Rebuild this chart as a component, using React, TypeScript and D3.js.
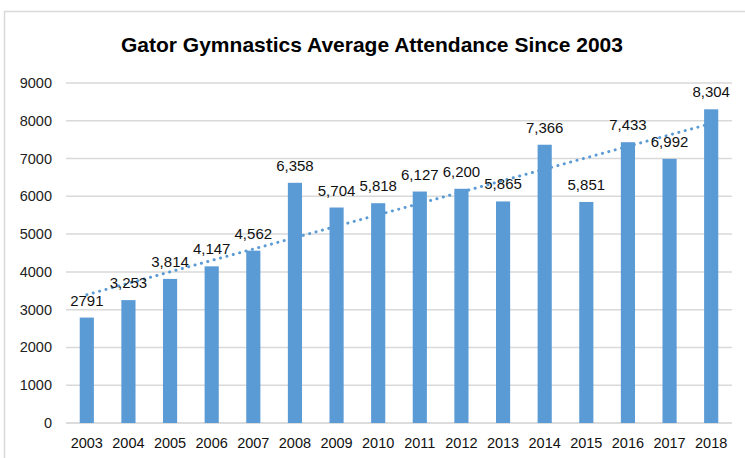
import * as d3 from 'd3';

const years = ['2003', '2004', '2005', '2006', '2007', '2008', '2009', '2010', '2011', '2012', '2013', '2014', '2015', '2016', '2017', '2018'];
const attendance = [2791, 3253, 3814, 4147, 4562, 6358, 5704, 5818, 6127, 6200, 5865, 7366, 5851, 7433, 6992, 8304];
const valueLabels = ['2791', '3,253', '3,814', '4,147', '4,562', '6,358', '5,704', '5,818', '6,127', '6,200', '5,865', '7,366', '5,851', '7,433', '6,992', '8,304'];
const yTicks = [0, 1000, 2000, 3000, 4000, 5000, 6000, 7000, 8000, 9000];

const width = 745;
const height = 458;
const plot = { left: 66, right: 732, top: 83, bottom: 423 };
const blue = '#5b9bd5';
const font = '"Liberation Sans", Arial, sans-serif';

export default function App() {
    const x = d3.scaleBand<string>().domain(years).range([plot.left, plot.right]).paddingInner(0.66).paddingOuter(0.33);
    const y = d3.scaleLinear().domain([0, 9000]).range([plot.bottom, plot.top]);
    const cx = (yr: string) => (x(yr) ?? 0) + x.bandwidth() / 2;

    // linear trendline, least squares over the year index
    const idx = attendance.map((_, i) => i);
    const mx = d3.mean(idx) ?? 0;
    const my = d3.mean(attendance) ?? 0;
    const slope =
        d3.sum(idx, (i) => (i - mx) * (attendance[i] - my)) / d3.sum(idx, (i) => (i - mx) * (i - mx));
    const intercept = my - slope * mx;
    const trend = d3
        .line<number>()
        .x((i) => cx(years[i]))
        .y((i) => y(intercept + slope * i));

    return (
        <svg
            width={width}
            height={height}
            style={{ position: 'absolute', left: 0, top: 0, background: '#fff' }}
            fontFamily={font}
        >
            <rect x={4.5} y={11.5} width={760} height={470} fill="#fff" stroke="#d9d9d9" strokeWidth={1.5} />
            <text
                x={372}
                y={52}
                textAnchor="middle"
                fontSize={21}
                fontWeight="bold"
                fill="#000"
                textLength={502}
                lengthAdjust="spacingAndGlyphs"
            >
                Gator Gymnastics Average Attendance Since 2003
            </text>
            {yTicks.map((t) => (
                <g key={t}>
                    <line
                        x1={plot.left}
                        x2={plot.right}
                        y1={y(t)}
                        y2={y(t)}
                        stroke={t === 0 ? '#d0d0d0' : '#d9d9d9'}
                        strokeWidth={1.5}
                    />
                    <text x={52} y={y(t) + 5} textAnchor="end" fontSize={14.5} fill="#222">
                        {t}
                    </text>
                </g>
            ))}
            {years.map((yr, i) => (
                <rect
                    key={yr}
                    x={x(yr)}
                    y={y(attendance[i])}
                    width={x.bandwidth()}
                    height={plot.bottom - y(attendance[i])}
                    fill={blue}
                />
            ))}
            <path
                d={trend(idx) ?? ''}
                fill="none"
                stroke={blue}
                strokeWidth={3}
                strokeLinecap="round"
                strokeDasharray="0.1 6.5"
            />
            {years.map((yr, i) => (
                <text key={yr} x={cx(yr)} y={y(attendance[i]) - 12} textAnchor="middle" fontSize={15} fill="#111">
                    {valueLabels[i]}
                </text>
            ))}
            {years.map((yr) => (
                <text key={yr} x={cx(yr)} y={448} textAnchor="middle" fontSize={14.5} fill="#111">
                    {yr}
                </text>
            ))}
        </svg>
    );
}
